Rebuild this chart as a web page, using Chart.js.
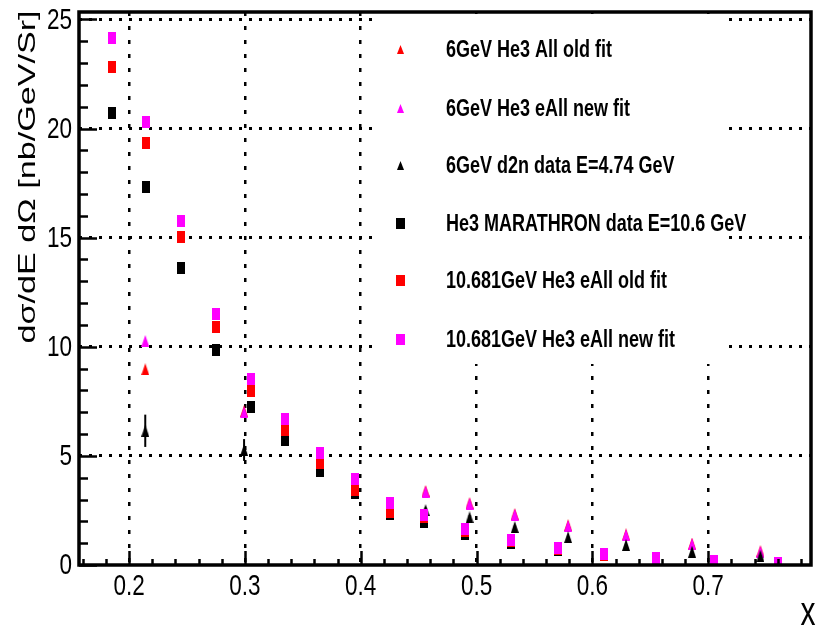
<!DOCTYPE html>
<html><head><meta charset="utf-8">
<script src="https://cdn.jsdelivr.net/npm/chart.js@4.4.0/dist/chart.umd.min.js"></script>
<style>html,body{margin:0;padding:0;background:#fff;overflow:hidden}</style>
</head><body>
<canvas id="c" width="817" height="632"></canvas>
<script>
// ---------------- data ----------------
const seriesNames = [
  '6GeV He3 All old fit',
  '6GeV He3 eAll new fit',
  '6GeV d2n data E=4.74 GeV',
  'He3 MARATHRON data E=10.6 GeV',
  '10.681GeV He3 eAll old fit',
  '10.681GeV He3 eAll new fit'
];
const triX      = [0.214, 0.2993, 0.456, 0.494, 0.533, 0.579, 0.629, 0.686, 0.745];
const oldFit6   = [8.97, 7.05, 3.39, 2.83, 2.33, 1.82, 1.40, 0.98, 0.63];
const newFit6   = [10.27, 7.00, 3.36, 2.81, 2.31, 1.79, 1.38, 0.96, 0.61];
const d2nData   = [6.15, 5.27, 2.52, 2.19, 1.74, 1.28, 0.92, 0.61, 0.42];
const d2nErr    = [0.74, 0.50, 0.12, 0.10, 0.08, 0.06, 0.05, 0.04, 0.03];
const sqX       = [0.185, 0.215, 0.245, 0.275, 0.305, 0.335, 0.365, 0.395, 0.425, 0.455, 0.49, 0.53, 0.57, 0.61, 0.655, 0.705, 0.76];
const marathon  = [20.70, 17.31, 13.59, 9.85, 7.22, 5.73, 4.30, 3.29, 2.35, 1.96, 1.41, 0.99, 0.67, 0.44, 0.28, 0.15, 0.07];
const oldFit10  = [22.83, 19.33, 15.01, 10.89, 7.98, 6.18, 4.66, 3.44, 2.42, 2.20, 1.57, 1.08, 0.73, 0.47, 0.30, 0.16, 0.08];
const newFit10  = [24.13, 20.29, 15.75, 11.48, 8.52, 6.70, 5.15, 3.93, 2.86, 2.28, 1.64, 1.15, 0.76, 0.50, 0.31, 0.17, 0.08];

const xTickLabels = ['0.2', '0.3', '0.4', '0.5', '0.6', '0.7'];
const yTickLabels = ['0', '5', '10', '15', '20', '25'];
const xTitle = 'x';
const yTitle = 'd\u03c3/dE d\u03a9 [nb/GeV/Sr]';
const xRange = [0.1568, 0.7887];
const yRange = [0, 25.34];

// ---------------- styling ----------------
const RED = '#ff0000', MAG = '#ff00ff', BLK = '#000000';
function mark(shape, color, w, h) {
  const c = document.createElement('canvas'); c.width = w; c.height = h;
  const g = c.getContext('2d'); g.fillStyle = color;
  if (shape === 'rect') g.fillRect(0, 0, w, h);
  else { g.beginPath(); g.moveTo(w / 2, 0); g.lineTo(w, h); g.lineTo(0, h); g.closePath(); g.fill(); }
  return c;
}
const shapes = ['tri', 'tri', 'tri', 'rect', 'rect', 'rect'];
const colors = [RED, MAG, BLK, BLK, RED, MAG];
const plotMarks = shapes.map((s, i) => s === 'rect' ? mark('rect', colors[i], 8, 12) : mark('tri', colors[i], 8, 12));
const legMarks = shapes.map((s, i) => s === 'rect' ? mark('rect', colors[i], 9, 11) : mark('tri', colors[i], 7, 9));

const xs = [triX, triX, triX, sqX, sqX, sqX];
const ys = [oldFit6, newFit6, d2nData, marathon, oldFit10, newFit10];

const datasets = ys.map((arr, i) => ({
  label: seriesNames[i],
  data: arr.map((v, k) => ({ x: xs[i][k], y: v })),
  pointStyle: plotMarks[i],
  pointRadius: 5,
  showLine: false,
  order: 5 - i
}));

const FONT = '"Liberation Sans", Arial, Helvetica, sans-serif';
function condText(ctx, text, x, y, font, sx, align, base) {
  ctx.save();
  ctx.font = font; ctx.textAlign = align; ctx.textBaseline = base; ctx.fillStyle = '#000';
  ctx.translate(x, y); ctx.scale(sx, 1); ctx.fillText(text, 0, 0);
  ctx.restore();
}

const legendBox = { left: 378, top: 14, right: 722, bottom: 364 };

const rootPlugin = {
  id: 'rootStyle',
  beforeDatasetsDraw(chart) {
    const ctx = chart.ctx;
    ctx.save(); ctx.fillStyle = '#fff';
    ctx.fillRect(legendBox.left, legendBox.top, legendBox.right - legendBox.left, legendBox.bottom - legendBox.top);
    ctx.restore();
  },
  afterDatasetDraw(chart, args) {
    if (args.index !== 2) return;
    const ctx = chart.ctx, sx = chart.scales.x, sy = chart.scales.y;
    ctx.save(); ctx.strokeStyle = BLK; ctx.lineWidth = 2;
    triX.forEach((x, k) => {
      const px = sx.getPixelForValue(x);
      ctx.beginPath();
      ctx.moveTo(px, sy.getPixelForValue(d2nData[k] - d2nErr[k]));
      ctx.lineTo(px, sy.getPixelForValue(d2nData[k] + d2nErr[k]));
      ctx.stroke();
    });
    ctx.restore();
  },
  afterDraw(chart) {
    const ctx = chart.ctx, a = chart.chartArea, sx = chart.scales.x, sy = chart.scales.y;
    ctx.save();
    // ticks
    ctx.strokeStyle = '#000'; ctx.lineWidth = 2.5;
    for (let v = 0.16; v <= xRange[1] + 1e-9; v += 0.02) {
      const px = Math.round(sx.getPixelForValue(v)) + 0.5;
      const major = Math.abs(v * 10 - Math.round(v * 10)) < 1e-6;
      ctx.beginPath(); ctx.moveTo(px, a.bottom); ctx.lineTo(px, a.bottom - (major ? 14 : 6)); ctx.stroke();
    }
    for (let v = 0; v <= 25; v += 1) {
      const py = Math.round(sy.getPixelForValue(v)) + 0.5;
      const major = v % 5 === 0;
      ctx.beginPath(); ctx.moveTo(a.left, py); ctx.lineTo(a.left + (major ? 18 : 9), py); ctx.stroke();
    }
    // frame
    ctx.lineWidth = 3.5;
    ctx.strokeRect(a.left, a.top, a.right - a.left, a.bottom - a.top);
    // tick labels
    xTickLabels.forEach(t => {
      condText(ctx, t, sx.getPixelForValue(parseFloat(t)), a.bottom + 22, '30px ' + FONT, 0.75, 'center', 'middle');
    });
    yTickLabels.forEach(t => {
      condText(ctx, t, a.left - 7, sy.getPixelForValue(parseFloat(t)) + 1, '30px ' + FONT, 0.75, 'right', 'middle');
    });
    // axis titles
    condText(ctx, xTitle, 808, 614, '40px ' + FONT, 0.75, 'center', 'middle');
    ctx.save();
    ctx.font = '24px ' + FONT;
    const w = ctx.measureText(yTitle).width;
    ctx.translate(28, 177); ctx.rotate(-Math.PI / 2); ctx.scale(333 / w, 1);
    ctx.textAlign = 'center'; ctx.textBaseline = 'middle'; ctx.fillStyle = '#000';
    ctx.fillText(yTitle, 0, 0);
    ctx.restore();
    // legend
    const rowY = [49, 108.5, 165.5, 223, 280.5, 339];
    seriesNames.forEach((n, i) => {
      const m = legMarks[i];
      ctx.drawImage(m, Math.round(400.5 - m.width / 2), Math.round(rowY[i] - m.height / 2));
      condText(ctx, n, 446, rowY[i] + 1, 'bold 24px ' + FONT, 0.75, 'left', 'middle');
    });
    ctx.restore();
  }
};

new Chart(document.getElementById('c'), {
  type: 'scatter',
  data: { datasets },
  options: {
    responsive: false, animation: false, devicePixelRatio: 1,
    layout: { padding: { left: 79, right: 2, top: 12, bottom: 67 } },
    plugins: { legend: { display: false }, tooltip: { enabled: false } },
    scales: {
      x: {
        type: 'linear', min: xRange[0], max: xRange[1],
        ticks: { display: false },
        grid: { color: '#000', lineWidth: 2.5, drawTicks: false },
        border: { display: false, dash: [4, 10] },
        afterBuildTicks: s => { s.ticks = xTickLabels.map(t => ({ value: parseFloat(t) })); }
      },
      y: {
        type: 'linear', min: yRange[0], max: yRange[1],
        ticks: { display: false },
        grid: { color: '#000', lineWidth: 3, drawTicks: false },
        border: { display: false, dash: [3, 7] },
        afterBuildTicks: s => { s.ticks = yTickLabels.filter(t => t !== '0').map(t => ({ value: parseFloat(t) })); }
      }
    }
  },
  plugins: [rootPlugin]
});
</script>
</body></html>
